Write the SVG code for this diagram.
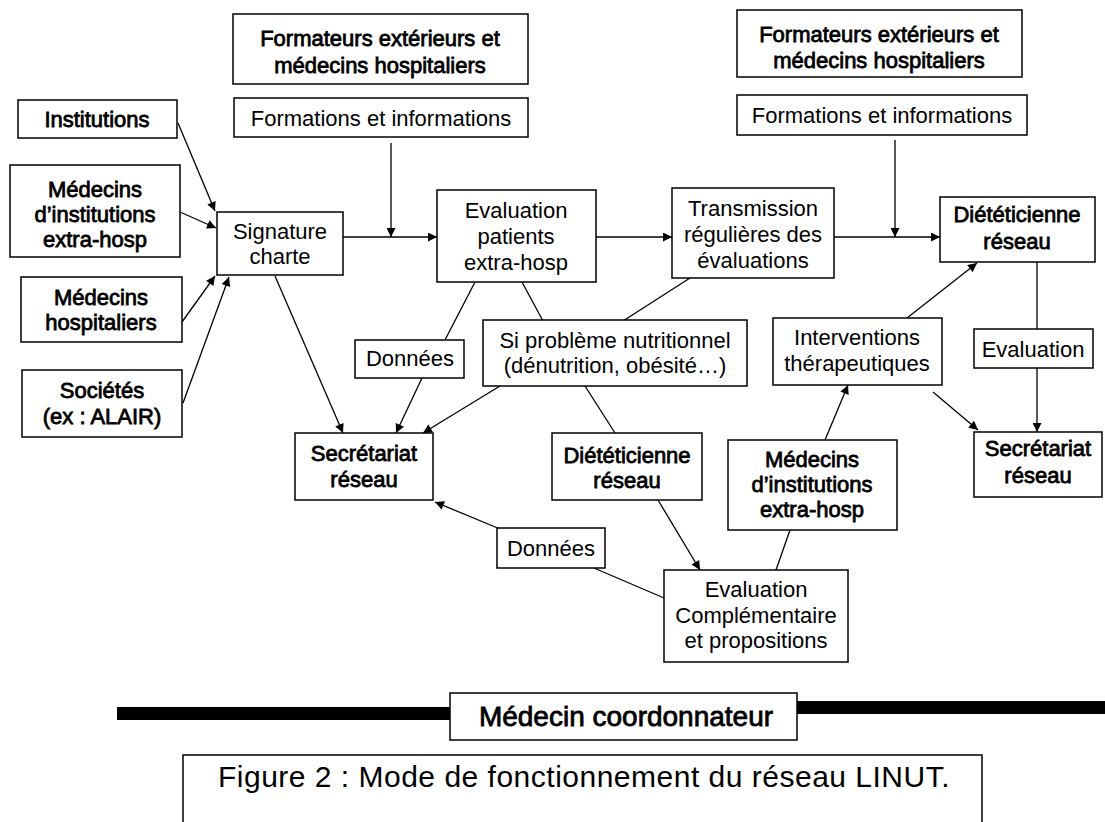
<svg xmlns="http://www.w3.org/2000/svg" width="1105" height="822" viewBox="0 0 1105 822">
<defs>
<style>
.box{fill:#fff;stroke:#000;stroke-width:1.5}
.t{font-family:"Liberation Sans",Arial,sans-serif;font-size:22px;text-anchor:middle;fill:#000}
.b{stroke:#000;stroke-width:0.8}
.ln{stroke:#000;stroke-width:1.3;fill:none}
.ar{marker-end:url(#ah)}
.bar{fill:#000}
</style>
<marker id="ah" viewBox="0 0 10 10" refX="10" refY="5" markerWidth="11" markerHeight="9" markerUnits="userSpaceOnUse" orient="auto">
<path d="M0,0 L10,5 L0,10 z" fill="#000"/>
</marker>
</defs>
<rect width="1105" height="822" fill="#fff"/>

<g id="connectors">
<line class="ln ar" x1="178" y1="123" x2="215" y2="211"/>
<line class="ln ar" x1="180" y1="212" x2="216" y2="228"/>
<line class="ln ar" x1="182" y1="322" x2="215" y2="276"/>
<line class="ln ar" x1="183" y1="403" x2="229" y2="277"/>
<line class="ln ar" x1="275" y1="276" x2="343" y2="433"/>
<line class="ln ar" x1="343" y1="237" x2="437" y2="237"/>
<line class="ln ar" x1="391" y1="143" x2="391" y2="237"/>
<line class="ln ar" x1="596" y1="237" x2="672" y2="237"/>
<line class="ln ar" x1="834" y1="237" x2="940" y2="237"/>
<line class="ln ar" x1="895" y1="140" x2="895" y2="237"/>
<line class="ln" x1="1037" y1="262" x2="1037" y2="329"/>
<line class="ln ar" x1="1037" y1="368" x2="1037" y2="432"/>
<line class="ln ar" x1="907" y1="318" x2="977" y2="263"/>
<line class="ln ar" x1="933" y1="392" x2="978" y2="430"/>
<line class="ln ar" x1="825" y1="440" x2="848" y2="385"/>
<line class="ln" x1="790" y1="530" x2="776" y2="570"/>
<line class="ln" x1="475" y1="282" x2="445" y2="340"/>
<line class="ln ar" x1="422" y1="378" x2="396" y2="433"/>
<line class="ln" x1="522" y1="282" x2="543" y2="321"/>
<line class="ln" x1="690" y1="278" x2="623" y2="321"/>
<line class="ln ar" x1="500" y1="386" x2="423" y2="433"/>
<line class="ln" x1="585" y1="386" x2="615" y2="433"/>
<line class="ln ar" x1="658" y1="500" x2="700" y2="570"/>
<line class="ln" x1="594" y1="568" x2="664" y2="598"/>
<line class="ln ar" x1="500" y1="529" x2="435" y2="502"/>
</g>

<g id="fmt1"><rect class="box" x="233" y="14" width="295" height="70"/>
<text class="t b" x="380" y="46">Formateurs extérieurs et</text>
<text class="t b" x="380" y="73">médecins hospitaliers</text></g>

<g id="form1"><rect class="box" x="234" y="98" width="294" height="39"/>
<text class="t" x="381" y="126">Formations et informations</text></g>

<g id="fmt2"><rect class="box" x="737" y="10" width="285" height="67"/>
<text class="t b" x="879" y="42">Formateurs extérieurs et</text>
<text class="t b" x="879" y="68">médecins hospitaliers</text></g>

<g id="form2"><rect class="box" x="737" y="95" width="290" height="40"/>
<text class="t" x="882" y="123">Formations et informations</text></g>

<g id="inst"><rect class="box" x="18" y="100" width="159" height="38"/>
<text class="t b" x="97" y="127">Institutions</text></g>

<g id="medinst1"><rect class="box" x="10" y="165" width="170" height="92"/>
<text class="t b" x="95" y="197">Médecins</text>
<text class="t b" x="95" y="222">d’institutions</text>
<text class="t b" x="95" y="247">extra-hosp</text></g>

<g id="signature"><rect class="box" x="217" y="212" width="126" height="63"/>
<text class="t" x="280" y="239">Signature</text>
<text class="t" x="280" y="264">charte</text></g>

<g id="medhosp"><rect class="box" x="21" y="277" width="161" height="65"/>
<text class="t b" x="101" y="305">Médecins</text>
<text class="t b" x="101" y="330">hospitaliers</text></g>

<g id="societes"><rect class="box" x="22" y="370" width="160" height="67"/>
<text class="t b" x="102" y="398">Sociétés</text>
<text class="t b" x="102" y="424">(ex : ALAIR)</text></g>

<g id="secr1"><rect class="box" x="295" y="433" width="138" height="67"/>
<text class="t b" x="364" y="461">Secrétariat</text>
<text class="t b" x="364" y="487">réseau</text></g>

<g id="evalp"><rect class="box" x="437" y="190" width="159" height="92"/>
<text class="t" x="516" y="218">Evaluation</text>
<text class="t" x="516" y="244">patients</text>
<text class="t" x="516" y="270">extra-hosp</text></g>

<g id="trans"><rect class="box" x="672" y="188" width="162" height="90"/>
<text class="t" x="753" y="216">Transmission</text>
<text class="t" x="753" y="242">régulières des</text>
<text class="t" x="753" y="268">évaluations</text></g>

<g id="diet1"><rect class="box" x="940" y="197" width="155" height="65"/>
<text class="t b" x="1017" y="222">Diététicienne</text>
<text class="t b" x="1017" y="249">réseau</text></g>

<g id="donnees1"><rect class="box" x="355" y="340" width="109" height="38"/>
<text class="t" x="410" y="366">Données</text></g>

<g id="siprob"><rect class="box" x="483" y="320" width="264" height="66"/>
<text class="t" x="615" y="348">Si problème nutritionnel</text>
<text class="t" x="615" y="373">(dénutrition, obésité…)</text></g>

<g id="interv"><rect class="box" x="773" y="318" width="169" height="67"/>
<text class="t" x="857" y="345">Interventions</text>
<text class="t" x="857" y="371">thérapeutiques</text></g>

<g id="evalr"><rect class="box" x="974" y="329" width="119" height="39"/>
<text class="t" x="1033" y="357">Evaluation</text></g>

<g id="secr2"><rect class="box" x="974" y="432" width="128" height="65"/>
<text class="t b" x="1038" y="456">Secrétariat</text>
<text class="t b" x="1038" y="483">réseau</text></g>

<g id="diet2"><rect class="box" x="552" y="433" width="150" height="67"/>
<text class="t b" x="627" y="463">Diététicienne</text>
<text class="t b" x="627" y="488">réseau</text></g>

<g id="medinst2"><rect class="box" x="728" y="440" width="169" height="90"/>
<text class="t b" x="812" y="467">Médecins</text>
<text class="t b" x="812" y="492">d’institutions</text>
<text class="t b" x="812" y="517">extra-hosp</text></g>

<g id="donnees2"><rect class="box" x="497" y="528" width="108" height="40"/>
<text class="t" x="551" y="556">Données</text></g>

<g id="evalc"><rect class="box" x="664" y="570" width="184" height="92"/>
<text class="t" x="756" y="597">Evaluation</text>
<text class="t" x="756" y="623">Complémentaire</text>
<text class="t" x="756" y="648">et propositions</text></g>

<g id="coord">
<rect class="bar" x="117" y="707" width="333" height="13"/>
<rect class="bar" x="797" y="701" width="308" height="13"/>
<rect class="box" x="450" y="693" width="347" height="47"/>
<text class="t b" x="626" y="726" style="font-size:28px">Médecin coordonnateur</text></g>

<g id="caption"><rect x="183" y="755" width="799" height="80" fill="#fff" stroke="#000" stroke-width="1.5"/>
<text class="t" x="584" y="787" style="font-size:30px;letter-spacing:0.5px">Figure 2 : Mode de fonctionnement du réseau LINUT.</text></g>
</svg>
